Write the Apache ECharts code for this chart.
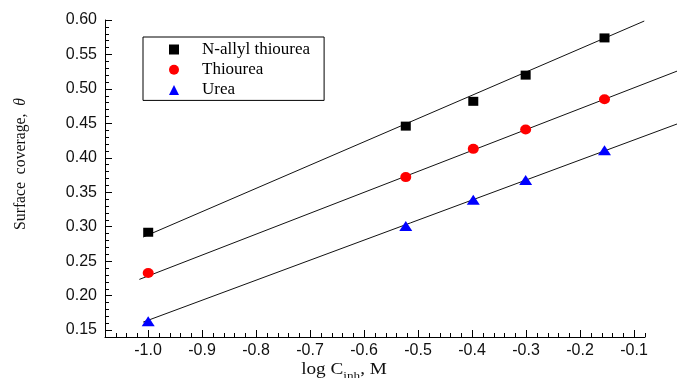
<!DOCTYPE html>
<html>
<head>
<meta charset="utf-8">
<script src="https://cdn.jsdelivr.net/npm/echarts@6/dist/echarts.min.js"></script>
<style>
html, body { margin: 0; padding: 0; background: #fff; }
#main { width: 677px; height: 378px; }
</style>
</head>
<body>
<div id="main"></div>
<script>
// log of inhibitor concentration (0.1, 0.3, 0.4, 0.5, 0.7 M)
const logC = [-1.0, -0.523, -0.398, -0.301, -0.155];
// surface coverage
const allylThiourea = [0.292, 0.446, 0.482, 0.520, 0.574];
const thiourea = [0.233, 0.372, 0.413, 0.441, 0.485];
const urea = [0.163, 0.301, 0.339, 0.368, 0.411];

// fitted lines, start and end points
const allylFitX = [-1.009, -0.081];
const allylFitY = [0.285, 0.5985];
const thioureaFitX = [-1.016, 0.0];
const thioureaFitY = [0.2236, 0.532];
const ureaFitX = [-1.009, 0.0];
const ureaFitY = [0.1616, 0.455];

const seriesNames = ['N-allyl thiourea', 'Thiourea', 'Urea'];

const pts = (xs, ys) => xs.map((x, i) => [x, ys[i]]);

const sans = 'Liberation Sans, Arial, sans-serif';
const serif = 'Liberation Serif, Times New Roman, serif';

const chart = echarts.init(document.getElementById('main'));

// fit lines live on their own wider (hidden) grid so they can run past the axis end
const fitLine = (xs, ys) => ({
    type: 'line',
    xAxisIndex: 3,
    yAxisIndex: 3,
    data: pts(xs, ys),
    symbol: 'none',
    clip: false,
    silent: true,
    z: 2,
    lineStyle: { color: '#111', width: 1 },
});

const option = {
    animation: false,
    backgroundColor: '#fff',
    // grid 0: data + minor ticks, grid 1: y major ticks/labels, grid 2: x major ticks/labels, grid 3: fit lines
    grid: [
        { left: 105, right: 32, top: 20, bottom: 41, outerBoundsMode: 'none' },
        { left: 105, right: 32, top: -14.45, bottom: 47.95, outerBoundsMode: 'none' },
        { left: 148, right: -11, top: 20, bottom: 41, outerBoundsMode: 'none' },
        { left: 94, right: -11, top: 20, bottom: 41, outerBoundsMode: 'none' },
    ],
    xAxis: [
        {
            gridIndex: 0, type: 'value', min: -1.08, max: -0.08, interval: 0.02,
            axisLine: { lineStyle: { color: '#000', width: 1 } },
            axisTick: { inside: true, length: 4, lineStyle: { color: '#000' } },
            axisLabel: { show: false },
            splitLine: { show: false },
        },
        { gridIndex: 1, type: 'value', show: false },
        {
            gridIndex: 2, type: 'value', min: -1.0, max: 0.0, interval: 0.1,
            axisLine: { show: false },
            axisTick: { inside: true, length: 7, lineStyle: { color: '#000' } },
            axisLabel: {
                margin: 6, color: '#111', fontFamily: sans, fontSize: 16,
                formatter: v => v.toFixed(1),
            },
            splitLine: { show: false },
        },
        { gridIndex: 3, type: 'value', min: -1.1, max: 0.0, show: false },
    ],
    yAxis: [
        {
            gridIndex: 0, type: 'value', min: 0.14, max: 0.60, interval: 0.01,
            axisLine: { show: true, lineStyle: { color: '#000', width: 1 } },
            axisTick: { show: true, inside: true, length: 4, lineStyle: { color: '#000' } },
            axisLabel: { show: false },
            splitLine: { show: false },
        },
        {
            gridIndex: 1, type: 'value', min: 0.15, max: 0.65, interval: 0.05,
            axisLine: { show: false },
            axisTick: { show: true, inside: true, length: 7, lineStyle: { color: '#000' } },
            axisLabel: {
                margin: 8, color: '#111', fontFamily: sans, fontSize: 16,
                formatter: v => v.toFixed(2),
            },
            splitLine: { show: false },
        },
        { gridIndex: 2, type: 'value', show: false },
        { gridIndex: 3, type: 'value', min: 0.14, max: 0.60, show: false },
    ],
    legend: {
        orient: 'vertical',
        left: 143,
        top: 37,
        borderColor: '#000',
        borderWidth: 1,
        padding: [4, 14, 2, 26],
        itemWidth: 10,
        itemHeight: 10,
        itemGap: 3.2,
        textStyle: { fontFamily: serif, fontSize: 17, color: '#000', lineHeight: 14, padding: [0, 0, 0, 18] },
        data: [
            { name: seriesNames[0], icon: 'rect' },
            { name: seriesNames[1], icon: 'circle' },
            { name: seriesNames[2], icon: 'triangle' },
        ],
    },
    graphic: [
        {
            type: 'text', x: 21, y: 164, rotation: Math.PI / 2,
            style: {
                text: 'Surface  coverage,  {i|θ}',
                fontFamily: serif, fontSize: 15.7, fill: '#111',
                align: 'center', verticalAlign: 'middle',
                rich: { i: { fontStyle: 'italic', fontFamily: serif, fontSize: 15.7 } },
            },
        },
        {
            type: 'text', x: 344, y: 370, scaleX: 1.2,
            style: {
                text: 'log C{s|inh}, M',
                fontFamily: serif, fontSize: 16, fill: '#111',
                align: 'center', verticalAlign: 'middle',
                rich: { s: { fontFamily: serif, fontSize: 11, padding: [12, 0, 0, 0] } },
            },
        },
    ],
    series: [
        fitLine(allylFitX, allylFitY),
        fitLine(thioureaFitX, thioureaFitY),
        fitLine(ureaFitX, ureaFitY),
        {
            name: seriesNames[0], type: 'scatter', data: pts(logC, allylThiourea),
            symbol: 'rect', symbolSize: [10, 9], z: 3,
            itemStyle: { color: '#000', opacity: 1 },
        },
        {
            name: seriesNames[1], type: 'scatter', data: pts(logC, thiourea),
            symbol: 'circle', symbolSize: [11, 10], z: 3,
            itemStyle: { color: '#ff0000', opacity: 1 },
        },
        {
            name: seriesNames[2], type: 'scatter', data: pts(logC, urea),
            symbol: 'triangle', symbolSize: [13, 10], z: 3,
            itemStyle: { color: '#0000ff', opacity: 1 },
        },
    ],
};

chart.setOption(option);
</script>
</body>
</html>
